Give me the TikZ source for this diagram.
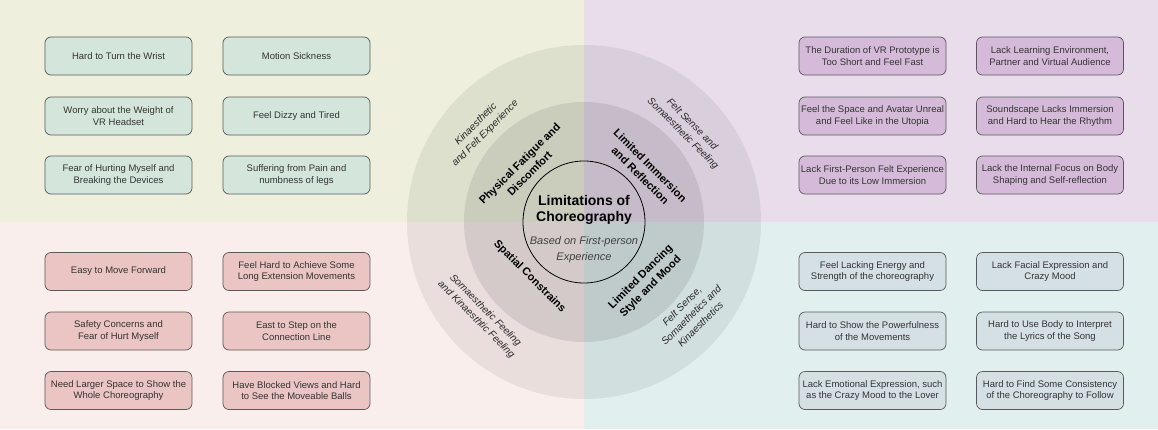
\documentclass[tikz,border=0pt]{standalone}
\usepackage{fontspec}
\setmainfont{Liberation Sans}

\definecolor{greenbg}{HTML}{EEF0DD}
\definecolor{greenbox}{HTML}{D4E6DC}
\definecolor{purplebg}{HTML}{E9DDEC}
\definecolor{purplebox}{HTML}{D5BBD9}
\definecolor{pinkbg}{HTML}{FAEEEC}
\definecolor{pinkbox}{HTML}{EAC5C3}
\definecolor{bluebg}{HTML}{E2EFEF}
\definecolor{bluebox}{HTML}{D5E0E5}

\tikzset{
  issue/.style={draw=black!65, line width=0.7pt, rounded corners=6pt,
    minimum width=147pt, minimum height=38pt, inner sep=1pt, align=center,
    text=black!80, font=\fontsize{9.5}{11.5}\selectfont},
  theme/.style={align=center, font=\bfseries\fontsize{11}{14}\selectfont},
  sense/.style={align=center, text=black!85, font=\itshape\fontsize{10}{13}\selectfont},
}

\begin{document}
\begin{tikzpicture}[x=1pt,y=1pt]
      \useasboundingbox (-584,-207) rectangle (574,222);

      % quadrants
      \fill[greenbg] (-584,0) rectangle (0,222);
      \fill[purplebg] (0,0) rectangle (574,222);
      \fill[pinkbg] (-584,-207) rectangle (0,0);
      \fill[bluebg] (0,-207) rectangle (574,0);

      % rings
      \fill[black, fill opacity=0.065] (0,0) circle (177);
      \fill[black, fill opacity=0.085] (0,0) circle (120);
      \node[circle, draw, line width=0.8pt, minimum size=122pt] (core) at (0,0) {};

      \node[font=\bfseries\fontsize{14}{16}\selectfont, align=center] (title) at (0,12)
        {Limitations of\\Choreography};
      \node[font=\itshape\fontsize{11}{16}\selectfont, align=center, text=black!75] (basis) at (0,-28)
        {Based on First-person\\Experience};

      % themes
      \node[theme, rotate=45] (fatigue) at (138:80) {Physical Fatigue and\\Discomfort};
      \node[theme, rotate=-45] (immersion) at (40:80) {Limited Immersion\\and Reflection};
      \node[theme, rotate=-45] (spatial) at (225:77) {Spatial Constrains};
      \node[theme, rotate=45] (mood) at (-44:86) {Limited Dancing\\Style and Mood};

      % senses
      \node[sense, rotate=45] (kin) at (138:139) {Kinaesthetic\\and Felt Experience};
      \node[sense, rotate=-45] (felt) at (42:139) {Felt Sense and\\Somaesthetic Feeling};
      \node[sense, rotate=-45] (soma) at (222:139) {Somaesthetic Feeling\\and Kinaesthtic Feeling};
      \node[sense, rotate=45] (all) at (-41:142) {Felt Sense,\\Somaethetics and\\Kinaesthetics};

      % issue boxes
      \foreach \x/\y/\t [count=\i] in {
          -465.5/166/{Hard to Turn the Wrist},
          -287.5/166/{Motion Sickness},
          -465.5/106/{Worry about the Weight of\\VR Headset},
          -287.5/106/{Feel Dizzy and Tired},
          -465.5/47/{Fear of Hurting Myself and\\Breaking the Devices},
          -287.5/47/{Suffering from Pain and\\numbness of legs}}
        \node[issue, fill=greenbox] (pf\i) at (\x,\y) {\t};

      \foreach \x/\y/\t [count=\i] in {
          288.5/166/{The Duration of VR Prototype is\\Too Short and Feel Fast},
          466/166/{Lack Learning Environment,\\Partner and Virtual Audience},
          288.5/106/{Feel the Space and Avatar Unreal\\and Feel Like in the Utopia},
          466/106/{Soundscape Lacks Immersion\\and Hard to Hear the Rhythm},
          288.5/47/{Lack First-Person Felt Experience\\Due to its Low Immersion},
          466/47/{Lack the Internal Focus on Body\\Shaping and Self-reflection}}
        \node[issue, fill=purplebox] (ir\i) at (\x,\y) {\t};

      \foreach \x/\y/\t [count=\i] in {
          -465.5/-49.5/{Easy to Move Forward},
          -287.5/-49.5/{Feel Hard to Achieve Some\\Long Extension Movements},
          -465.5/-109/{Safety Concerns and\\Fear of Hurt Myself},
          -287.5/-109/{East to Step on the\\Connection Line},
          -465.5/-168.5/{Need Larger Space to Show the\\Whole Choreography},
          -287.5/-168.5/{Have Blocked Views and Hard\\to See the Moveable Balls}}
        \node[issue, fill=pinkbox] (sc\i) at (\x,\y) {\t};

      \foreach \x/\y/\t [count=\i] in {
          288.5/-49.5/{Feel Lacking Energy and\\Strength of the choreography},
          466/-49.5/{Lack Facial Expression and\\Crazy Mood},
          288.5/-109/{Hard to Show the Powerfulness\\of the Movements},
          466/-109/{Hard to Use Body to Interpret\\the Lyrics of the Song},
          288.5/-168.5/{Lack Emotional Expression, such\\as the Crazy Mood to the Lover},
          466/-168.5/{Hard to Find Some Consistency\\of the Choreography to Follow}}
        \node[issue, fill=bluebox] (dm\i) at (\x,\y) {\t};
    \end{tikzpicture}
\end{document}
